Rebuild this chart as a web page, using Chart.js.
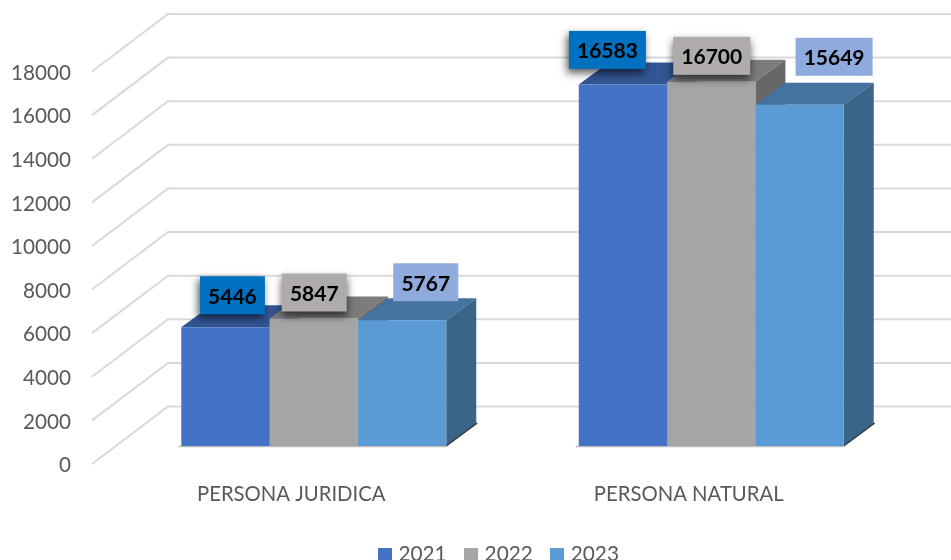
<!DOCTYPE html>
<html><head><meta charset="utf-8">
<style>html,body{margin:0;padding:0;background:#fff;overflow:hidden}canvas{display:block}</style>
<script src="https://cdn.jsdelivr.net/npm/chart.js@4"></script>
</head><body>
<canvas id="c" width="951" height="560"></canvas>
<script>
const categories = ['PERSONA JURIDICA', 'PERSONA NATURAL'];
const seriesNames = ['2021', '2022', '2023'];
const values2021 = [5446, 16583];
const values2022 = [5847, 16700];
const values2023 = [5767, 15649];
const tickLabels = [0, 2000, 4000, 6000, 8000, 10000, 12000, 14000, 16000, 18000];

const frontColors = ['#4472C4', '#A5A5A5', '#5B9BD5'];
const topColors = ['#335593', '#7C7C7C', '#44739F'];
const sideColors = ['#2F4F8A', '#676767', '#3A6488'];
const labelFills = ['#0070C0', '#AFABAB', '#8FAADC'];
const labelShadow = [true, true, false];
// label-box nudges from each bar's top-centre: [series][category] = [dx, dy]
const labelNudges = [
  [[7, -32], [-15.5, -34.5]],
  [[0.5, -26], [0.5, -26]],
  [[23.7, -38], [34.5, -48]]
];
const FONT = 'Lato, Carlito, sans-serif';
const TEXT = '#595959';
const WALL_DX = 76, WALL_DY = 57.5;   // floor depth of the wall gridlines
const BAR_DX = 30, BAR_DY = 22;       // depth of each bar
const LEGEND_DROP = 15;

const wall3d = {
  id: 'wall3d',
  afterLayout(chart) {
    chart.scales.y.left = 0;          // let the tick labels sit clear of the floor
    chart.legend.top += LEGEND_DROP;
    chart.legend.bottom += LEGEND_DROP;
  },
  beforeDatasetsDraw(chart) {
    const { ctx, scales } = chart;
    const ax = scales.y;
    ctx.save();
    ctx.strokeStyle = '#D9D9D9';
    ctx.lineWidth = 2;
    tickLabels.forEach(v => {
      const y = ax.getPixelForValue(v);
      ctx.beginPath();
      ctx.moveTo(92, y);
      ctx.lineTo(92 + WALL_DX, y - WALL_DY);
      ctx.lineTo(chart.width, y - WALL_DY);
      ctx.stroke();
    });
    // extrusions, left to right
    const metas = chart.getSortedVisibleDatasetMetas();
    categories.forEach((_, ci) => {
      metas.forEach((meta, si) => {
        const b = meta.data[ci];
        const l = b.x - b.width / 2, r = b.x + b.width / 2, t = b.y, base = b.base;
        ctx.fillStyle = topColors[si];
        ctx.beginPath();
        ctx.moveTo(l, t); ctx.lineTo(l + BAR_DX, t - BAR_DY);
        ctx.lineTo(r + BAR_DX, t - BAR_DY); ctx.lineTo(r, t);
        ctx.closePath(); ctx.fill();
        ctx.fillStyle = sideColors[si];
        ctx.beginPath();
        ctx.moveTo(r, t); ctx.lineTo(r + BAR_DX, t - BAR_DY);
        ctx.lineTo(r + BAR_DX, base - BAR_DY); ctx.lineTo(r, base);
        ctx.closePath(); ctx.fill();
        if (si === metas.length - 1) {
          ctx.strokeStyle = '#3A3A3A';
          ctx.lineWidth = 1.5;
          ctx.beginPath();
          ctx.moveTo(r, base); ctx.lineTo(r + BAR_DX + 1, base - BAR_DY - 1);
          ctx.stroke();
        }
      });
      const first = metas[0].data[ci], last = metas[metas.length - 1].data[ci];
      ctx.strokeStyle = '#BDBDBD';
      ctx.lineWidth = 1.5;
      ctx.beginPath();
      ctx.moveTo(first.x - first.width / 2 - 3, first.base + 0.5);
      ctx.lineTo(last.x + last.width / 2, first.base + 0.5);
      ctx.stroke();
    });
    ctx.restore();
  },
  afterDatasetsDraw(chart) {
    const { ctx } = chart;
    chart.getSortedVisibleDatasetMetas().forEach((meta, si) => {
      const data = chart.data.datasets[meta.index].data;
      meta.data.forEach((b, ci) => {
        const [dx, dy] = labelNudges[si][ci];
        const txt = String(data[ci]);
        const w = txt.length > 4 ? 77 : 65, h = 38;
        const cx = b.x + dx, cy = b.y + dy;
        ctx.save();
        if (labelShadow[si]) {
          ctx.shadowColor = 'rgba(0,0,0,0.65)';
          ctx.shadowBlur = 8;
          ctx.shadowOffsetX = si === 0 ? -2 : 0;
          ctx.shadowOffsetY = 4;
        }
        ctx.fillStyle = labelFills[si];
        ctx.fillRect(cx - w / 2, cy - h / 2, w, h);
        ctx.restore();
        ctx.save();
        ctx.fillStyle = '#000';
        ctx.font = 'bold 21px ' + FONT;
        ctx.textAlign = 'center';
        ctx.textBaseline = 'middle';
        ctx.fillText(txt, cx, cy + 1.5);
        ctx.restore();
      });
    });
  }
};

function swatch(color) {
  const s = document.createElement('canvas');
  s.width = 14; s.height = 14;
  const g = s.getContext('2d');
  g.fillStyle = color; g.fillRect(0, 0, 14, 14);
  return s;
}

new Chart(document.getElementById('c'), {
  type: 'bar',
  plugins: [wall3d],
  data: {
    labels: categories,
    datasets: [values2021, values2022, values2023].map((d, i) => ({
      label: seriesNames[i], data: d, yAxisID: 'yBar',
      backgroundColor: frontColors[i], borderWidth: 0,
      barPercentage: 1, categoryPercentage: 2 / 3
    }))
  },
  options: {
    responsive: false,
    animation: false,
    layout: { padding: { top: 14, right: 41, left: 91, bottom: 0 } },
    plugins: {
      tooltip: { enabled: false },
      legend: {
        position: 'bottom',
        labels: {
          color: TEXT,
          font: { family: FONT, size: 20.8 },
          padding: 21.5,
          usePointStyle: true,
          pointStyleWidth: 6,
          generateLabels(chart) {
            return Chart.defaults.plugins.legend.labels.generateLabels(chart).map((it, i) => {
              it.pointStyle = swatch(frontColors[i]);
              return it;
            });
          }
        }
      }
    },
    scales: {
      x: {
        grid: { display: false }, border: { display: false },
        ticks: { color: TEXT, font: { family: FONT, size: 20.3 }, labelOffset: -22.5, padding: 10, maxRotation: 0, autoSkip: false },
        afterFit(s) { s.height = 560 - 464 - s.chart.legend.height; }
      },
      y: {
        min: 0, max: 20637,
        grid: { display: false, drawTicks: false }, border: { display: false },
        ticks: { color: TEXT, font: { family: FONT, size: 20.7 }, padding: 44, stepSize: 2000, labelOffset: 1.5, callback: v => String(v) },
        afterBuildTicks(s) { s.ticks = tickLabels.map(v => ({ value: v })); },
        afterFit(s) { s.width = 24; s.paddingTop = 0; s.paddingBottom = 0; }
      },
      yBar: {
        display: false, min: -825, max: 19811
      }
    }
  }
});
</script>
</body></html>
